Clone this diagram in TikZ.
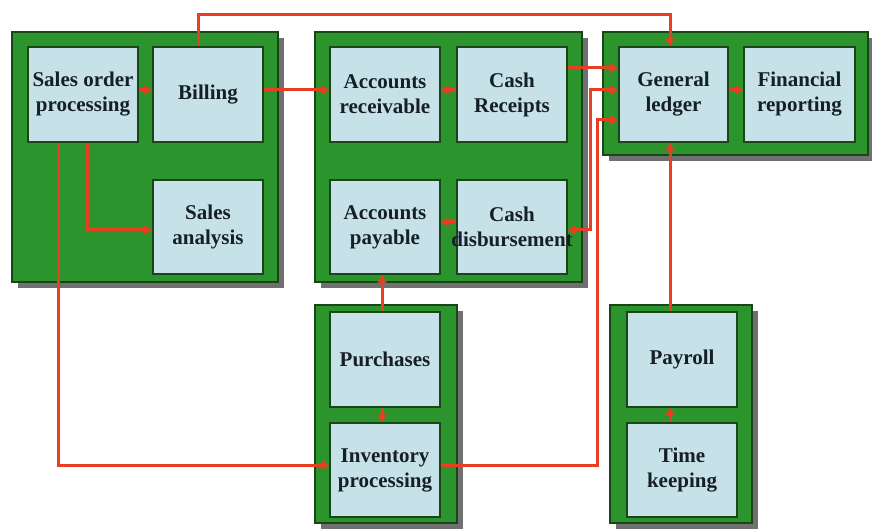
\documentclass[tikz,border=0pt]{standalone}
\usepackage{fontspec}
\setmainfont{Liberation Serif}
\usetikzlibrary{arrows.meta}
\definecolor{grp}{RGB}{44,148,44}
\definecolor{grpedge}{RGB}{25,70,25}
\definecolor{boxfill}{RGB}{198,226,232}
\definecolor{shadowc}{RGB}{112,112,112}
\definecolor{linkc}{RGB}{232,62,34}
\definecolor{txt}{RGB}{22,30,40}
\begin{document}
\begin{tikzpicture}[x=1pt,y=-1pt,
  grpbox/.style={fill=grp,draw=grpedge,line width=1.2pt},
  fbox/.style={draw=grpedge,line width=1.2pt,fill=boxfill,minimum width=110pt,minimum height=95pt,inner sep=0pt,
    align=center,text=txt,font=\fontsize{21}{25}\selectfont\bfseries},
  link/.style={draw=linkc,line width=3pt},
  tolink/.style={link,-{Triangle[length=8pt,width=9pt]}},
  bothlink/.style={link,{Triangle[length=8pt,width=9pt]}-{Triangle[length=8pt,width=9pt]}}]
\useasboundingbox (0,0) rectangle (872,529);
% group shadows and group boxes
\foreach \a/\b/\c/\d in {12/32/278/282, 315/32/582/282, 603/32/868/155, 315/305/457/523, 610/305/752/523}{
  \fill[shadowc] (\a+6,\b+6) rectangle (\c+6,\d+6);
  \path[grpbox] (\a,\b) rectangle (\c,\d);
}
% function boxes
\node[fbox] (so) at (83,94.5) {Sales order\\processing};
\node[fbox] (bill) at (208,94.5) {Billing};
\node[fbox,minimum height=94pt] (sa) at (208,227) {Sales\\analysis};
\node[fbox] (ar) at (385,94.5) {Accounts\\receivable};
\node[fbox] (cr) at (512,94.5) {Cash\\Receipts};
\node[fbox,minimum height=94pt] (ap) at (385,227) {Accounts\\payable};
\node[fbox,minimum height=94pt] (cd) at (512,227) {Cash\\\makebox[0pt]{disbursement}};
\node[fbox,minimum width=109pt] (gl) at (673.5,94.5) {General\\ledger};
\node[fbox,minimum width=111pt] (fr) at (799.5,94.5) {Financial\\reporting};
\node[fbox] (pu) at (385,359.5) {Purchases};
\node[fbox,minimum height=94pt] (inv) at (385,470) {Inventory\\processing};
\node[fbox] (pay) at (682,359.5) {Payroll};
\node[fbox,minimum height=94pt] (tk) at (682,470) {Time\\keeping};
% helper coordinates
\coordinate (top) at (198,15);
\coordinate (x58) at (58,0);
\coordinate (x87) at (87,0);
\coordinate (x382) at (382,0);
\coordinate (x590) at (590,0);
\coordinate (x597) at (597,0);
\coordinate (x670) at (670,0);
\coordinate (y68) at (0,68);
\coordinate (y90) at (0,90);
\coordinate (y120) at (0,120);
\coordinate (y222) at (0,222);
\coordinate (y230) at (0,230);
\coordinate (y465) at (0,465);
% connectors
\draw[tolink] (bill.north -| top) -- (top) -| (gl.north -| x670);
\draw[tolink] (so.east |- y90) -- (bill.west |- y90);
\draw[tolink] (bill.east |- y90) -- (ar.west |- y90);
\draw[tolink] (cr.west |- y90) -- (ar.east |- y90);
\draw[tolink] (cr.east |- y68) -- (gl.west |- y68);
\draw[bothlink] (cd.east |- y230) -| (x590 |- y90) -- (gl.west |- y90);
\draw[tolink] (inv.east |- y465) -| (x597 |- y120) -- (gl.west |- y120);
\draw[tolink] (cd.west |- y222) -- (ap.east |- y222);
\draw[tolink] (pu.north -| x382) -- (ap.south -| x382);
\draw[tolink] (pu.south -| x382) -- (inv.north -| x382);
\draw[tolink] (so.south -| x58) |- (inv.west |- y465);
\draw[tolink] (so.south -| x87) |- (sa.west |- y230);
\draw[tolink] (gl.east |- y90) -- (fr.west |- y90);
\draw[tolink] (pay.north -| x670) -- (gl.south -| x670);
\draw[tolink] (tk.north -| x670) -- (pay.south -| x670);
\end{tikzpicture}
\end{document}
